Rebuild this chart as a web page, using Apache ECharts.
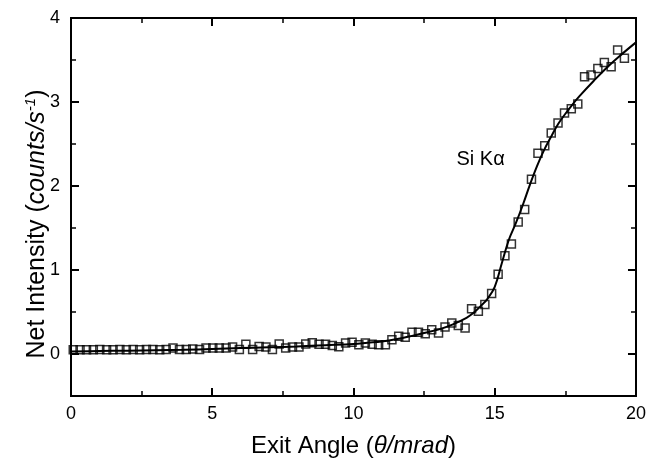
<!DOCTYPE html>
<html>
<head>
<meta charset="utf-8">
<script src="https://cdn.jsdelivr.net/npm/echarts@6/dist/echarts.min.js"></script>
<style>
html,body{margin:0;padding:0;background:#fff;}
#c{width:649px;height:463px;}
</style>
</head>
<body>
<div id="c"></div>
<script>
// Measured data points (exit angle in mrad, net intensity in counts/s)
var angle = [0.08,0.32,0.55,0.79,1.02,1.26,1.49,1.73,1.96,2.2,2.43,2.67,2.9,3.14,3.37,3.61,3.84,4.08,4.31,4.55,4.78,
  5.02,5.25,5.49,5.72,5.96,6.19,6.43,6.66,6.9,7.13,7.37,7.6,7.84,8.07,8.31,8.54,8.78,9.01,9.25,9.48,
  9.72,9.95,10.19,10.42,10.66,10.89,11.13,11.36,11.6,11.83,12.07,12.3,12.54,12.77,13.01,13.24,13.48,13.71,
  13.95,14.18,14.42,14.65,14.89,15.12,15.36,15.59,15.83,16.06,16.3,16.53,16.77,17.0,17.24,17.47,17.71,17.94,
  18.18,18.41,18.65,18.88,19.12,19.35,19.59];
var intensity = [0.05,0.05,0.05,0.05,0.055,0.05,0.05,0.055,0.05,0.055,0.05,0.055,0.055,0.05,0.055,0.07,0.055,0.055,0.06,0.055,0.07,
  0.07,0.07,0.07,0.083,0.055,0.115,0.055,0.09,0.083,0.055,0.12,0.07,0.083,0.083,0.12,0.135,0.115,0.115,0.10,0.085,
  0.13,0.14,0.11,0.13,0.115,0.11,0.11,0.17,0.21,0.20,0.26,0.26,0.24,0.29,0.25,0.32,0.37,0.34,
  0.31,0.54,0.51,0.59,0.72,0.95,1.17,1.31,1.57,1.72,2.08,2.39,2.48,2.63,2.75,2.87,2.92,2.975,
  3.30,3.32,3.40,3.47,3.42,3.62,3.52];
// Fitted curve
var fitX = [0,1,2,3,4,5,6,7,8,9,10,10.5,11,11.5,12,12.5,13,13.5,14,14.25,14.5,14.75,15,15.25,15.5,15.75,16,16.25,16.5,16.75,17,17.25,17.5,17.75,18,18.5,19,19.5,20];
var fitY = [0.03,0.035,0.04,0.045,0.05,0.06,0.07,0.08,0.09,0.105,0.12,0.135,0.15,0.175,0.21,0.25,0.29,0.35,0.43,0.49,0.57,0.66,0.8,1.08,1.36,1.56,1.78,2.02,2.24,2.43,2.59,2.74,2.86,2.97,3.07,3.25,3.42,3.57,3.71];
// Tick values
var yMajorTicks = [0,1,2,3,4];
var annotationText = 'Si K\u03b1';
var annotationAt = [14.5, 2.32];

var font = 'Liberation Sans, Arial, Helvetica, sans-serif';
var pts = angle.map(function(x,i){return [x, intensity[i]];});
var fit = fitX.map(function(x,i){return [x, fitY[i]];});

var baseX = {
  type:'value', min:0, max:20, interval:5,
  axisLine:{show:true, onZero:false, lineStyle:{color:'#000', width:2}},
  axisTick:{show:true, inside:true, length:8, lineStyle:{color:'#000', width:2}},
  minorTick:{show:true, splitNumber:2, length:5, lineStyle:{color:'#000', width:1.5}},
  splitLine:{show:false}, minorSplitLine:{show:false}
};
function ax(base, extra){ return Object.assign({}, JSON.parse(JSON.stringify(base)), extra); }

var minorY = {
  type:'value', min:-0.5, max:4, interval:0.5,
  axisLine:{show:true, onZero:false, lineStyle:{color:'#000', width:2}},
  axisTick:{show:true, inside:true, length:5, lineStyle:{color:'#000', width:1.5}},
  axisLabel:{show:false}, splitLine:{show:false}
};
var majorY = {
  type:'value', min:-0.5, max:4,
  axisLine:{show:true, onZero:false, lineStyle:{color:'#000', width:2}},
  axisTick:{show:true, inside:true, length:8, customValues:yMajorTicks, lineStyle:{color:'#000', width:2}},
  splitLine:{show:false}
};

var chart = echarts.init(document.getElementById('c'), null, {renderer:'canvas'});
chart.setOption({
  backgroundColor:'#fff',
  animation:false,
  grid:{left:71, right:12, top:18, bottom:64, containLabel:false},
  xAxis:[
    ax(baseX, {position:'bottom',
      axisLabel:{show:true, margin:9, color:'#000', fontSize:18, fontFamily:font},
      name:'{a|Exit Angle (}{i|\u03b8/mrad}{a|)}', nameLocation:'middle', nameGap:38,
      nameTextStyle:{rich:{
        a:{fontSize:24, fontFamily:font, color:'#000'},
        i:{fontSize:24, fontFamily:font, fontStyle:'italic', color:'#000'}
      }}
    }),
    ax(baseX, {position:'top', axisLabel:{show:false}})
  ],
  yAxis:[
    ax(minorY, {position:'left'}),
    ax(majorY, {position:'left',
      axisLabel:{show:true, customValues:yMajorTicks, margin:11, color:'#000', fontSize:18, fontFamily:font}}),
    ax(minorY, {position:'right'}),
    ax(majorY, {position:'right', axisLabel:{show:false}})
  ],
  graphic:[{
    type:'text', x:37, y:224, rotation:Math.PI/2,
    style:{
      text:'{a|Net Intensity (}{i|counts/s}{s|-1}{a|)}',
      align:'center', verticalAlign:'middle',
      rich:{
        a:{fontSize:25, fontFamily:font, fill:'#000', lineHeight:30},
        i:{fontSize:25, fontFamily:font, fontStyle:'italic', fill:'#000', lineHeight:30},
        s:{fontSize:15, fontFamily:font, fontStyle:'italic', fill:'#000', lineHeight:30, padding:[0,0,12,0]}
      }
    }
  }],
  series:[
    {type:'scatter', xAxisIndex:0, yAxisIndex:1, data:pts, symbol:'rect', symbolSize:8,
     itemStyle:{color:'rgba(255,255,255,0)', borderColor:'#000', borderWidth:1.5}, z:2, silent:true},
    {type:'line', xAxisIndex:0, yAxisIndex:1, data:fit, smooth:0.4, showSymbol:false, symbol:'none',
     lineStyle:{color:'#000', width:2}, z:3, silent:true}
  ]
});
// Place the annotation through the chart's own scales
var p = chart.convertToPixel({xAxisIndex:0, yAxisIndex:1}, annotationAt);
chart.setOption({graphic:[{}, {
  type:'text', x:p[0], y:p[1],
  style:{text:annotationText, align:'center', verticalAlign:'middle', fontSize:20, fontFamily:font, fill:'#000'}
}]});
</script>
</body>
</html>
